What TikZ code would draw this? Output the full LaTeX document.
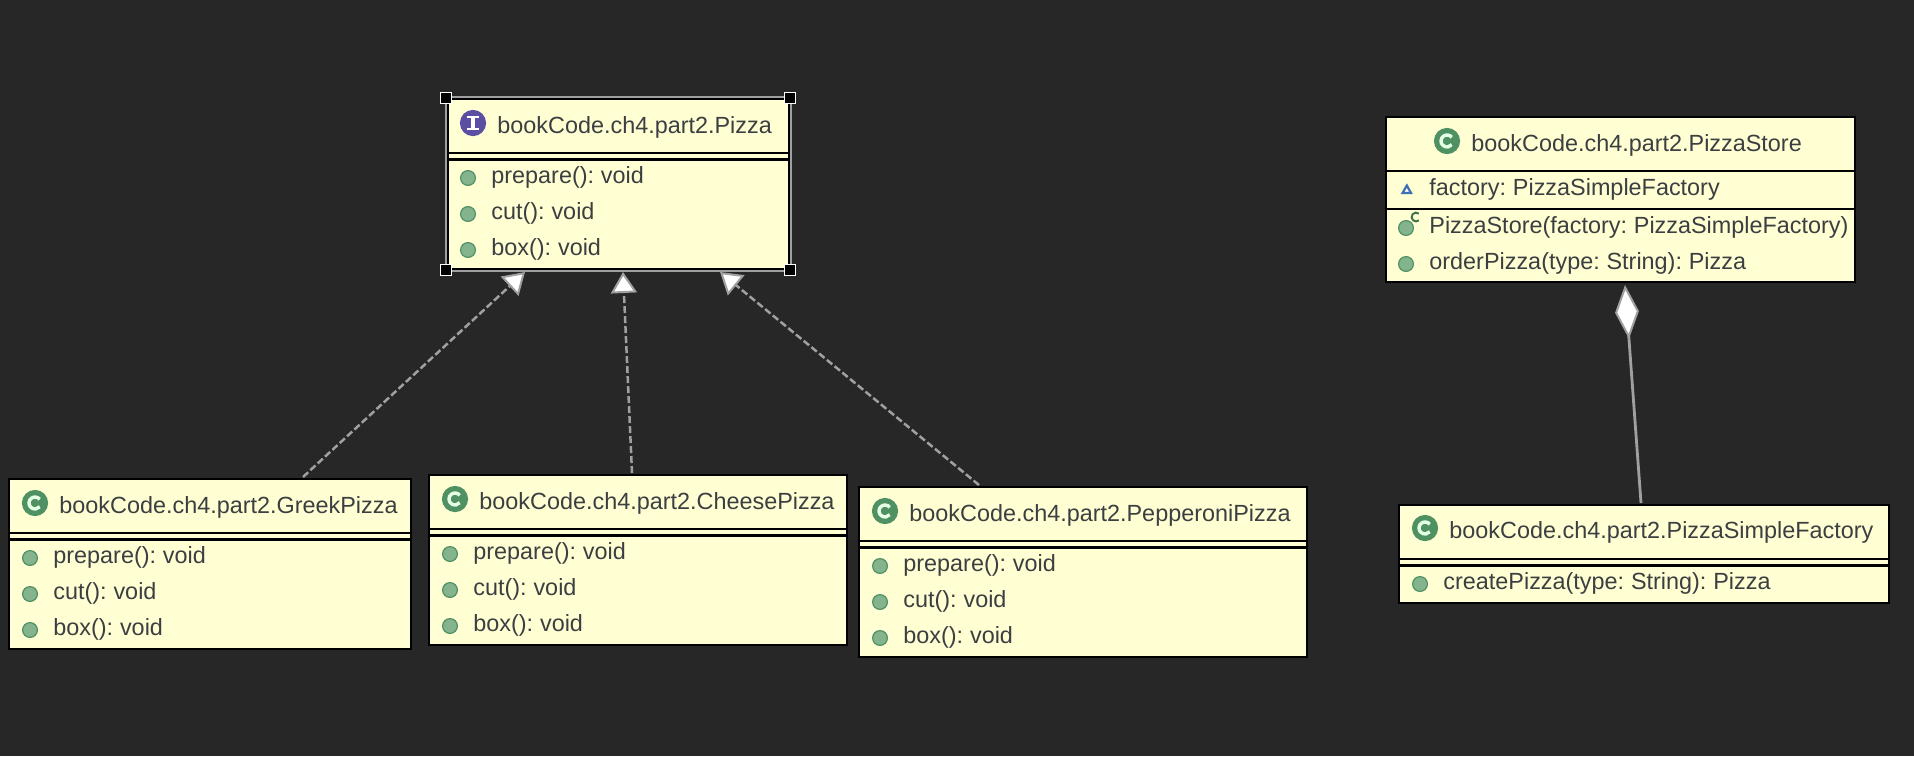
\documentclass[tikz,border=0pt]{standalone}
\usepackage{fontspec}
\setmainfont[WordSpace=0.72]{Liberation Sans}
\usetikzlibrary{arrows.meta}
\definecolor{bgc}{HTML}{272727}
\definecolor{boxc}{HTML}{FFFFD3}
\definecolor{txtc}{HTML}{3C3F41}
\definecolor{linec}{HTML}{A0A0A0}
\definecolor{grnd}{HTML}{4F9163}
\definecolor{grnl}{HTML}{83B48D}
\definecolor{purp}{HTML}{5B4FA3}
\definecolor{bluec}{HTML}{3F6FB5}
\tikzset{
  x=0.5pt,y=-0.5pt,
  umlbox/.style={draw=black,line width=1.1pt,fill=boxc,inner sep=0pt,outer sep=0pt,anchor=north west},
  sepline/.style={draw=black,line width=1.1pt},
  ttl/.style={anchor=base west,inner sep=0pt,text=txtc,font=\fontsize{11.7}{14}\selectfont},
  dotm/.style={circle,draw=grnd,fill=grnl,line width=0.6pt,inner sep=0pt,minimum size=7.4pt},
  iconc/.style={circle,draw=grnd,fill=grnd,line width=0.6pt,inner sep=0pt,minimum size=12.5pt},
  iconi/.style={circle,draw=purp,fill=purp,line width=0.6pt,inner sep=0pt,minimum size=12.5pt},
  handle/.style={draw=white,fill=black,line width=0.9pt,inner sep=0pt,minimum size=5.5pt},
  realize/.style={draw=linec,line width=1.25pt,dash pattern=on 3.5pt off 1.5pt,
    -{Triangle[open,length=10.5pt,width=13pt,fill=white,line width=1pt]}},
  compo/.style={draw=linec,line width=1.4pt,
    -{Diamond[open,length=27pt,width=12pt,fill=white,line width=1pt]}},
}
% name, left, top, right, bottom
\newcommand{\umlrect}[5]{%
  \pgfmathsetmacro{\boxw}{(#4-#2)*0.5}%
  \pgfmathsetmacro{\boxh}{(#5-#3)*0.5}%
  \node[umlbox,minimum width=\boxw pt,minimum height=\boxh pt] (#1) at (#2,#3) {};}
\newcommand{\cicon}[3]{%
  \node[iconc] (#1) at (#2,#3) {};
  \draw[white!90!green,line width=1.7pt] (#1.center) ++(38:3pt) arc[start angle=38,end angle=322,radius=3pt];}
\newcommand{\member}[5]{% name, dot x, text x, row y, text
  \node[dotm] (#1d) at (#2,#4) {};
  \node[ttl] (#1t) at (#3,#4+5.5) {#5};}
\begin{document}
\begin{tikzpicture}
\useasboundingbox (0,0) rectangle (1914,756);
\fill[bgc] (0,0) rectangle (1914,756);

% ---- Pizza
\draw[linec,line width=1pt] (446,97) rectangle (791,271);
\umlrect{pizza}{448}{99}{789}{269}
\draw[sepline] (448,153) -- (789,153) (448,159.5) -- (789,159.5);
\node[iconi] (pizzai) at (473,123) {};
\draw[white,line width=1.6pt] (473,117) -- (473,129);
\draw[white,line width=1.1pt] (467,117) -- (479,117) (467,129) -- (479,129);
\node[ttl] (pizzat) at (497,133.5) {bookCode.ch4.part2.Pizza};
\member{pa}{468}{491}{178}{prepare(): void}
\member{pb}{468}{491}{214}{cut(): void}
\member{pc}{468}{491}{250}{box(): void}

% ---- GreekPizza
\umlrect{greek}{9}{479}{411}{649}
\draw[sepline] (9,533) -- (411,533) (9,539.5) -- (411,539.5);
\cicon{greeki}{35}{503}
\node[ttl] (greekt) at (59,513.5) {bookCode.ch4.part2.GreekPizza};
\member{ga}{30}{53}{558}{prepare(): void}
\member{gb}{30}{53}{594}{cut(): void}
\member{gc}{30}{53}{630}{box(): void}

% ---- CheesePizza
\umlrect{cheese}{429}{475}{847}{645}
\draw[sepline] (429,529) -- (847,529) (429,535.5) -- (847,535.5);
\cicon{cheesei}{455}{499}
\node[ttl] (cheeset) at (479,509.5) {bookCode.ch4.part2.CheesePizza};
\member{ca}{450}{473}{554}{prepare(): void}
\member{cb}{450}{473}{590}{cut(): void}
\member{cc}{450}{473}{626}{box(): void}

% ---- PepperoniPizza
\umlrect{pepper}{859}{487}{1307}{657}
\draw[sepline] (859,541) -- (1307,541) (859,547.5) -- (1307,547.5);
\cicon{pepperi}{885}{511}
\node[ttl] (peppert) at (909,521.5) {bookCode.ch4.part2.PepperoniPizza};
\member{ea}{880}{903}{566}{prepare(): void}
\member{eb}{880}{903}{602}{cut(): void}
\member{ec}{880}{903}{638}{box(): void}

% ---- PizzaStore
\umlrect{store}{1386}{117}{1855}{282}
\draw[sepline] (1386,171) -- (1855,171) (1386,209) -- (1855,209);
\cicon{storei}{1447}{141}
\node[ttl] (storet) at (1471,151.5) {bookCode.ch4.part2.PizzaStore};
\filldraw[draw=bluec,fill=white,line width=1.1pt] (1402.5,193) -- (1411,193) -- (1406.8,185.5) -- cycle;
\node[ttl] (storef) at (1429,195) {factory: PizzaSimpleFactory};
\node[dotm] (storecd) at (1406,228) {};
\draw[grnd!80!black,line width=1pt] (1416,217) ++(50:2.2pt) arc[start angle=50,end angle=310,radius=2.2pt];
\node[ttl] (storect) at (1429,233.5) {PizzaStore(factory: PizzaSimpleFactory)};
\member{so}{1406}{1429}{264}{orderPizza(type: String): Pizza}

% ---- PizzaSimpleFactory
\umlrect{factory}{1399}{505}{1889}{603}
\draw[sepline] (1399,559) -- (1889,559) (1399,565.5) -- (1889,565.5);
\cicon{factoryi}{1425}{528}
\node[ttl] (factoryt) at (1449,538.5) {bookCode.ch4.part2.PizzaSimpleFactory};
\member{fa}{1420}{1443}{584}{createPizza(type: String): Pizza}

% ---- connectors
\coordinate (gs) at (303,477);
\coordinate (ge) at (525,272);
\coordinate (cs) at (632,473);
\coordinate (ce) at (623,272);
\coordinate (es) at (979,485);
\coordinate (ee) at (720,272);
\coordinate (fs) at (1641,503);
\coordinate (fe) at (1625,285);
\draw[realize] (gs) -- (ge);
\draw[realize] (cs) -- (ce);
\draw[realize] (es) -- (ee);
\draw[compo] (fs) -- (fe);

% ---- selection handles
\foreach \n/\hx/\hy in {h1/446/98,h2/790/98,h3/446/270,h4/790/270}
  \node[handle] (\n) at (\hx,\hy) {};
\end{tikzpicture}
\end{document}
